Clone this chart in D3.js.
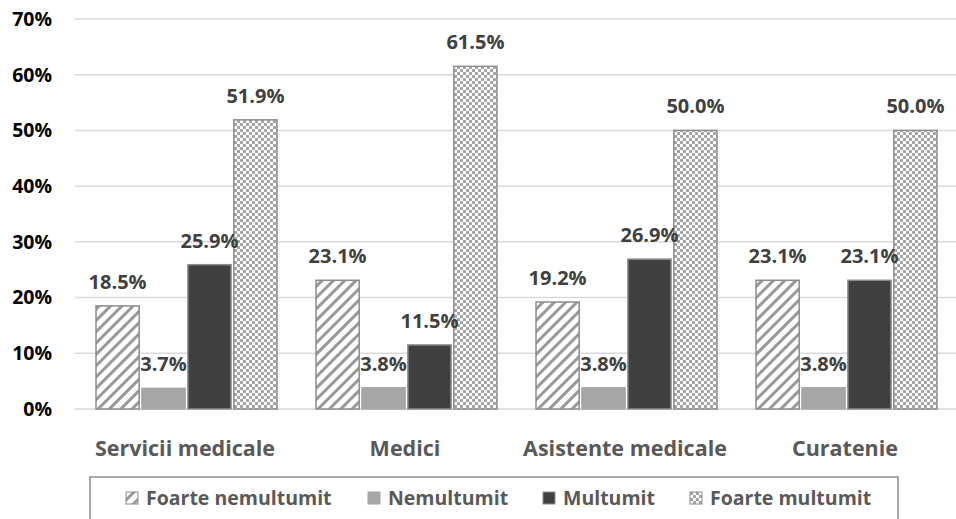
<!DOCTYPE html>
<html>
<head>
<meta charset="utf-8">
<script src="https://cdn.jsdelivr.net/npm/d3@7"></script>
<style>
  body { margin: 0; background: #fff; }
  svg { display: block; font-family: "Open Sans", sans-serif; font-weight: bold; }
</style>
</head>
<body>
<div id="chart"></div>
<script>
const categories = ["Servicii medicale", "Medici", "Asistente medicale", "Curatenie"];
const seriesNames = ["Foarte nemultumit", "Nemultumit", "Multumit", "Foarte multumit"];
const foarteNemultumit = [18.5, 23.1, 19.2, 23.1];
const nemultumit = [3.7, 3.8, 3.8, 3.8];
const multumit = [25.9, 11.5, 26.9, 23.1];
const foarteMultumit = [51.9, 61.5, 50.0, 50.0];
const yTicks = [0, 10, 20, 30, 40, 50, 60, 70];

const seriesValues = [foarteNemultumit, nemultumit, multumit, foarteMultumit];

const width = 956, height = 519;
const margin = { top: 19, left: 75, bottom: 110, right: 1 };
const iheight = height - margin.top - margin.bottom;

const svg = d3.select("#chart").append("svg")
    .attr("width", width)
    .attr("height", height);

// patterns
const defs = svg.append("defs");
const stripes = defs.append("pattern")
    .attr("id", "stripes")
    .attr("patternUnits", "userSpaceOnUse")
    .attr("width", 8).attr("height", 8)
    .attr("patternTransform", "rotate(45)");
stripes.append("rect").attr("width", 8).attr("height", 8).attr("fill", "#fff");
stripes.append("rect").attr("width", 3).attr("height", 8).attr("fill", "#999");

const checker = defs.append("pattern")
    .attr("id", "checker")
    .attr("patternUnits", "userSpaceOnUse")
    .attr("width", 6).attr("height", 6);
checker.append("rect").attr("width", 6).attr("height", 6).attr("fill", "#fff");
checker.append("rect").attr("width", 3).attr("height", 3).attr("fill", "#a6a6a6");
checker.append("rect").attr("x", 3).attr("y", 3).attr("width", 3).attr("height", 3).attr("fill", "#a6a6a6");

const fills = ["url(#stripes)", "#a6a6a6", "#404040", "url(#checker)"];
const strokes = ["#8c8c8c", "#a6a6a6", "#8c8c8c", "#8c8c8c"];

const y = d3.scaleLinear().domain([0, 70]).range([margin.top + iheight, margin.top]);
const x0 = d3.scaleBand().domain(categories).range([margin.left, width - margin.right]).padding(0);
const x1 = d3.scaleBand().domain(seriesNames).range([21, x0.bandwidth() - 18]).paddingInner(0.06);

// gridlines
svg.append("g")
    .selectAll("line")
    .data(yTicks)
    .join("line")
    .attr("x1", margin.left).attr("x2", width)
    .attr("y1", d => y(d)).attr("y2", d => y(d))
    .attr("stroke", "#d9d9d9")
    .attr("stroke-width", 1.5);

// y tick labels
svg.append("g")
    .selectAll("text")
    .data(yTicks)
    .join("text")
    .attr("x", 52)
    .attr("y", d => y(d))
    .attr("dy", "0.35em")
    .attr("text-anchor", "end")
    .attr("font-size", 19.5)
    .attr("fill", "#000")
    .text(d => d + "%");

// bars
const groups = svg.append("g")
    .selectAll("g")
    .data(categories)
    .join("g")
    .attr("transform", d => `translate(${x0(d)},0)`);

groups.selectAll("rect")
    .data((c, ci) => seriesNames.map((s, si) => ({ s, si, v: seriesValues[si][ci] })))
    .join("rect")
    .attr("x", d => x1(d.s))
    .attr("y", d => y(d.v))
    .attr("width", x1.bandwidth())
    .attr("height", d => y(0) - y(d.v))
    .attr("fill", d => fills[d.si])
    .attr("stroke", d => strokes[d.si])
    .attr("stroke-width", 1.5);

// value labels
groups.selectAll("text")
    .data((c, ci) => seriesNames.map((s, si) => ({ s, si, v: seriesValues[si][ci] })))
    .join("text")
    .attr("x", d => x1(d.s) + x1.bandwidth() / 2)
    .attr("y", d => y(d.v) - 17)
    .attr("text-anchor", "middle")
    .attr("font-size", 20)
    .attr("fill", "#404040")
    .text(d => d.v.toFixed(1) + "%");

// category labels
svg.append("g")
    .selectAll("text")
    .data(categories)
    .join("text")
    .attr("x", d => x0(d) + x0.bandwidth() / 2)
    .attr("y", 456)
    .attr("text-anchor", "middle")
    .attr("font-size", 21.5)
    .attr("fill", "#595959")
    .text(d => d);

// legend
svg.append("rect")
    .attr("x", 90).attr("y", 477)
    .attr("width", 808).attr("height", 60)
    .attr("fill", "none")
    .attr("stroke", "#8c8c8c")
    .attr("stroke-width", 1.5);

const legendX = [126, 368, 543, 690];
const legend = svg.append("g")
    .selectAll("g")
    .data(seriesNames)
    .join("g")
    .attr("transform", (d, i) => `translate(${legendX[i]},498)`);

legend.append("rect")
    .attr("x", 0).attr("y", -6)
    .attr("width", 12).attr("height", 12)
    .attr("fill", (d, i) => fills[i])
    .attr("stroke", (d, i) => strokes[i])
    .attr("stroke-width", 1);

legend.append("text")
    .attr("x", 20)
    .attr("dy", "0.35em")
    .attr("font-size", 19.5)
    .attr("fill", "#595959")
    .text(d => d);
</script>
</body>
</html>
